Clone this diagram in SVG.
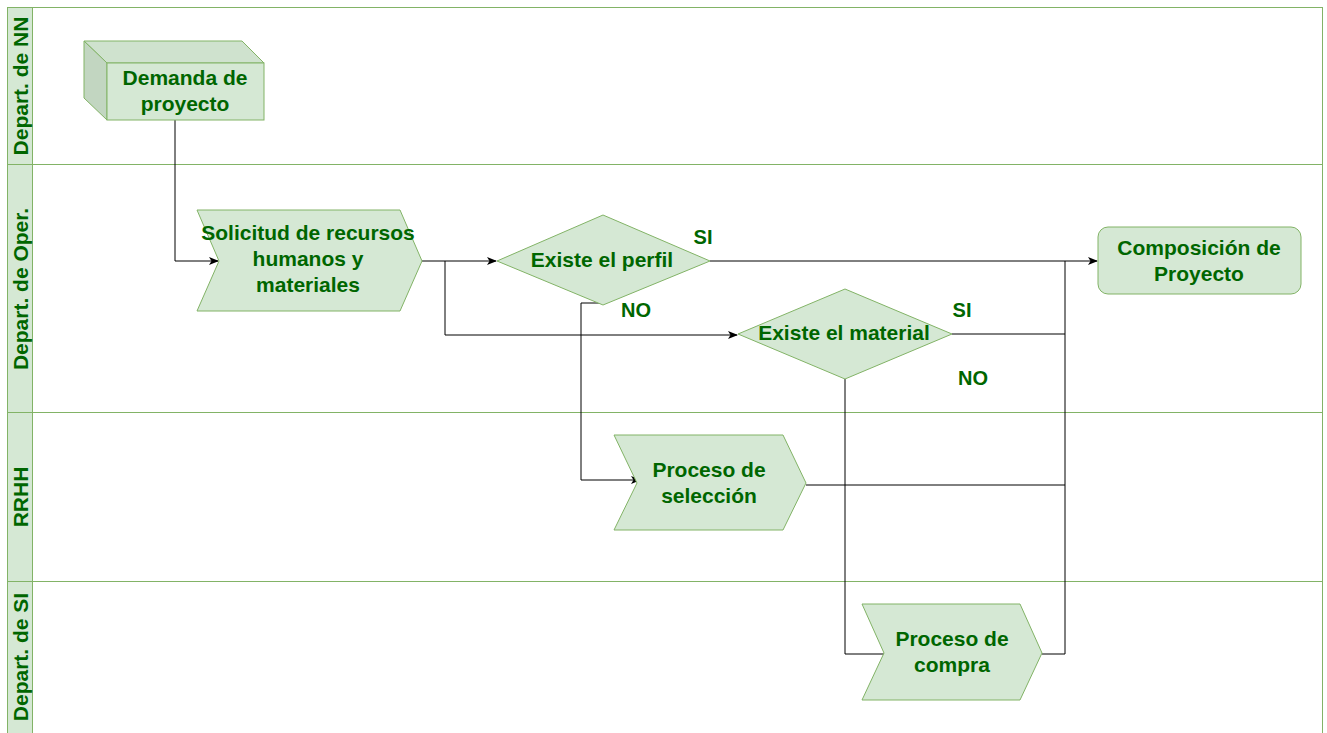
<svg xmlns="http://www.w3.org/2000/svg" width="1327" height="733" viewBox="0 0 1327 733">
<defs>
<style>
.lane{fill:#ffffff;stroke:#82b366;stroke-width:1}
.hdr{fill:#d5e8d4;stroke:#82b366;stroke-width:1}
.shape{fill:#d5e8d4;stroke:#82b366;stroke-width:1}
.dark{fill:#c2d6c1;stroke:#82b366;stroke-width:1}
.top{fill:#cfe2ce;stroke:#82b366;stroke-width:1}
.t{font-family:"Liberation Sans",Arial,sans-serif;font-weight:bold;font-size:21px;fill:#006600;text-anchor:middle}
.lbl{font-family:"Liberation Sans",Arial,sans-serif;font-weight:bold;font-size:20px;fill:#006600;text-anchor:middle}
.c{fill:none;stroke:#000000;stroke-width:1}
</style>
<marker id="arr" viewBox="0 0 10 10" refX="9" refY="5" markerWidth="10" markerHeight="10" markerUnits="userSpaceOnUse" orient="auto">
<path d="M0,1 L10,5 L0,9 L2.5,5 Z" fill="#000000"/>
</marker>
</defs>
<rect width="1327" height="733" fill="#ffffff"/>
<g id="lanes">
<rect class="lane" x="7.5" y="7.5" width="1315" height="157"/>
<rect class="hdr" x="7.5" y="7.5" width="25" height="157"/>
<text class="t" transform="translate(28,86) rotate(-90)">Depart. de NN</text>
<rect class="lane" x="7.5" y="164.5" width="1315" height="248"/>
<rect class="hdr" x="7.5" y="164.5" width="25" height="248"/>
<text class="t" transform="translate(28,289) rotate(-90)">Depart. de Oper.</text>
<rect class="lane" x="7.5" y="412.5" width="1315" height="169"/>
<rect class="hdr" x="7.5" y="412.5" width="25" height="169"/>
<text class="t" transform="translate(28,497) rotate(-90)">RRHH</text>
<rect class="lane" x="7.5" y="581.5" width="1315" height="160"/>
<rect class="hdr" x="7.5" y="581.5" width="25" height="160"/>
<text class="t" transform="translate(28,657) rotate(-90)">Depart. de SI</text>
</g>
<g id="connectors">
<polyline class="c" points="175,120 175,261 218,261" marker-end="url(#arr)"/>
<polyline class="c" points="422,261 496,261" marker-end="url(#arr)"/>
<polyline class="c" points="445,261 445,335 737,335" marker-end="url(#arr)"/>
<polyline class="c" points="710,261 1097,261" marker-end="url(#arr)"/>
<polyline class="c" points="603,303 581,303 581,480 640,480" marker-end="url(#arr)"/>
<polyline class="c" points="952,334 1065,334"/>
<polyline class="c" points="1065,261 1065,654 1042,654"/>
<polyline class="c" points="806,485 1065,485"/>
<polyline class="c" points="845,379 845,654 884,654"/>
</g>
<g id="n-demanda">
<polygon class="top" points="84,41 242,41 264,63 107,63"/>
<polygon class="dark" points="84,41 107,63 107,120 84,98"/>
<rect class="shape" x="107" y="63" width="157" height="57"/>
<text class="t" x="185" y="85">Demanda de</text>
<text class="t" x="185" y="111">proyecto</text>
</g>
<g id="n-solicitud">
<polygon class="shape" points="197,210 400,210 422,261 400,311 197,311 219,261"/>
<text class="t" x="308" y="240">Solicitud de recursos</text>
<text class="t" x="308" y="266">humanos y</text>
<text class="t" x="308" y="292">materiales</text>
</g>
<g id="n-perfil">
<polygon class="shape" points="497,261 603,215 710,261 603,305"/>
<text class="t" x="602" y="267">Existe el perfil</text>
</g>
<g id="n-material">
<polygon class="shape" points="738,334 845,289 952,334 845,379"/>
<text class="t" x="844" y="340">Existe el material</text>
</g>
<g id="n-composicion">
<rect class="shape" x="1098" y="227" width="203" height="67" rx="10" ry="10"/>
<text class="t" x="1199" y="255">Composición de</text>
<text class="t" x="1199" y="281">Proyecto</text>
</g>
<g id="n-seleccion">
<polygon class="shape" points="614,435 783,435 806,483 783,530 614,530 637,483"/>
<text class="t" x="709" y="477">Proceso de</text>
<text class="t" x="709" y="503">selección</text>
</g>
<g id="n-compra">
<polygon class="shape" points="862,604 1020,604 1042,653 1020,700 862,700 884,653"/>
<text class="t" x="952" y="646">Proceso de</text>
<text class="t" x="952" y="672">compra</text>
</g>
<g id="labels">
<text class="lbl" x="703" y="244">SI</text>
<text class="lbl" x="636" y="317">NO</text>
<text class="lbl" x="962" y="317">SI</text>
<text class="lbl" x="973" y="385">NO</text>
</g>
</svg>
